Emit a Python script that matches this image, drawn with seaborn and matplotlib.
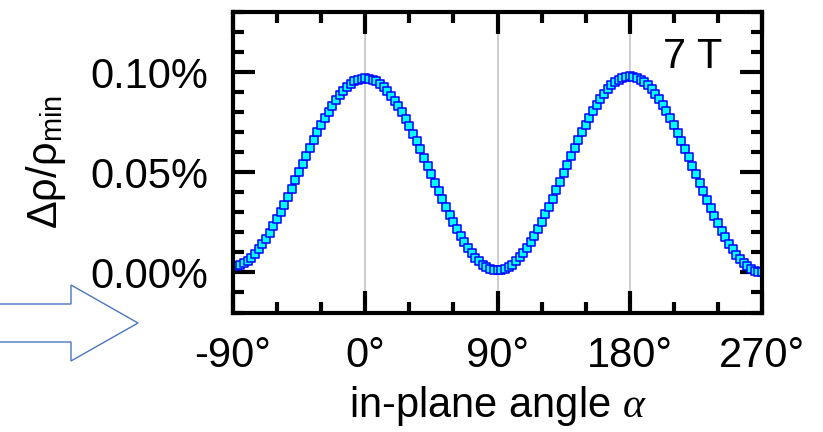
import matplotlib
matplotlib.use('Agg')
import matplotlib.pyplot as plt
import seaborn as sns
import pandas as pd
from matplotlib.patches import Polygon
from matplotlib.ticker import MultipleLocator

# ---- data ----
angles = [-90.0, -87.5, -85.0, -82.5, -80.0, -77.5, -75.0, -72.5, -70.0, -67.5,
          -65.0, -62.5, -60.0, -57.5, -55.0, -52.5, -50.0, -47.5, -45.0, -42.5,
          -40.0, -37.5, -35.0, -32.5, -30.0, -27.5, -25.0, -22.5, -20.0, -17.5,
          -15.0, -12.5, -10.0, -7.5, -5.0, -2.5, 0.0, 2.5, 5.0, 7.5,
          10.0, 12.5, 15.0, 17.5, 20.0, 22.5, 25.0, 27.5, 30.0, 32.5,
          35.0, 37.5, 40.0, 42.5, 45.0, 47.5, 50.0, 52.5, 55.0, 57.5,
          60.0, 62.5, 65.0, 67.5, 70.0, 72.5, 75.0, 77.5, 80.0, 82.5,
          85.0, 87.5, 90.0, 92.5, 95.0, 97.5, 100.0, 102.5, 105.0, 107.5,
          110.0, 112.5, 115.0, 117.5, 120.0, 122.5, 125.0, 127.5, 130.0, 132.5,
          135.0, 137.5, 140.0, 142.5, 145.0, 147.5, 150.0, 152.5, 155.0, 157.5,
          160.0, 162.5, 165.0, 167.5, 170.0, 172.5, 175.0, 177.5, 180.0, 182.5,
          185.0, 187.5, 190.0, 192.5, 195.0, 197.5, 200.0, 202.5, 205.0, 207.5,
          210.0, 212.5, 215.0, 217.5, 220.0, 222.5, 225.0, 227.5, 230.0, 232.5,
          235.0, 237.5, 240.0, 242.5, 245.0, 247.5, 250.0, 252.5, 255.0, 257.5,
          260.0, 262.5, 265.0, 267.5, 270.0]
# delta rho / rho_min in percent
delta_rho = [
    # -90 .. 0
    0.0030, 0.0032, 0.0037, 0.0046, 0.0058, 0.0074, 0.0093, 0.0115, 0.0140, 0.0168,
    0.0198, 0.0230, 0.0265, 0.0301, 0.0339, 0.0378, 0.0418, 0.0459, 0.0500, 0.0541,
    0.0582, 0.0622, 0.0661, 0.0699, 0.0735, 0.0770, 0.0802, 0.0832, 0.0860, 0.0885,
    0.0907, 0.0926, 0.0942, 0.0954, 0.0963, 0.0968, 0.0970,
    # 2.5 .. 90
    0.0968, 0.0963, 0.0954, 0.0941, 0.0925, 0.0906, 0.0883, 0.0858, 0.0829, 0.0799,
    0.0765, 0.0730, 0.0693, 0.0654, 0.0614, 0.0573, 0.0532, 0.0490, 0.0448, 0.0407,
    0.0366, 0.0326, 0.0287, 0.0250, 0.0215, 0.0181, 0.0151, 0.0122, 0.0097, 0.0074,
    0.0055, 0.0039, 0.0026, 0.0017, 0.0012, 0.0010,
    # 92.5 .. 180
    0.0012, 0.0017, 0.0027, 0.0039, 0.0055, 0.0075, 0.0098, 0.0123, 0.0152, 0.0183,
    0.0217, 0.0253, 0.0290, 0.0329, 0.0369, 0.0411, 0.0453, 0.0495, 0.0537, 0.0579,
    0.0621, 0.0661, 0.0700, 0.0738, 0.0773, 0.0807, 0.0838, 0.0867, 0.0892, 0.0915,
    0.0935, 0.0951, 0.0963, 0.0973, 0.0978, 0.0980,
    # 182.5 .. 270
    0.0978, 0.0973, 0.0963, 0.0950, 0.0934, 0.0914, 0.0891, 0.0865, 0.0836, 0.0805,
    0.0771, 0.0735, 0.0697, 0.0658, 0.0617, 0.0575, 0.0533, 0.0490, 0.0447, 0.0405,
    0.0363, 0.0322, 0.0283, 0.0245, 0.0209, 0.0175, 0.0144, 0.0115, 0.0089, 0.0066,
    0.0046, 0.0030, 0.0017, 0.0007, 0.0002, 0.0000]
xticks = [-90, 0, 90, 180, 270]
xtick_labels = ['-90°', '0°', '90°', '180°', '270°']
yticks = [0.0, 0.05, 0.10]
ytick_labels = ['0.00%', '0.05%', '0.10%']
field_label = '7 T'

# ---- style ----
sns.set_style('ticks')
plt.rcParams['font.family'] = ['Liberation Sans', 'DejaVu Sans']
plt.rcParams['mathtext.fontset'] = 'custom'
plt.rcParams['mathtext.rm'] = 'Liberation Sans'
plt.rcParams['mathtext.it'] = 'Liberation Serif:italic'
plt.rcParams['mathtext.bf'] = 'Liberation Sans:bold'
for k in ['text.color', 'axes.labelcolor', 'xtick.color', 'ytick.color']:
    plt.rcParams[k] = 'black'

W, H = 823, 432
fig = plt.figure(figsize=(W / 100, H / 100), dpi=100)
ax = fig.add_axes([233 / W, 1 - 312.5 / H, 529 / W, 300.5 / H])

df = pd.DataFrame({'angle': angles, 'drho': delta_rho})
sns.scatterplot(data=df, x='angle', y='drho', marker='s', s=26,
                color='#00ffff', edgecolor='#0000ff', linewidth=1.1,
                ax=ax, legend=False, zorder=2)

ax.set_xlim(-90, 270)
ax.set_ylim(-0.02, 0.13)
ax.set_xticks(xticks)
ax.set_xticklabels(xtick_labels)
ax.set_yticks(yticks)
ax.set_yticklabels(ytick_labels)
ax.xaxis.set_minor_locator(MultipleLocator(30))
ax.yaxis.set_minor_locator(MultipleLocator(0.01))

ax.grid(axis='x', which='major', color='#c4c4c4', linewidth=1.2)

for sp in ax.spines.values():
    sp.set_visible(True)
    sp.set_linewidth(3)
    sp.set_color('black')

ax.tick_params(which='both', direction='in', top=True, right=True,
               bottom=True, left=True, color='black', width=3)
ax.tick_params(which='major', length=16, labelsize=30)
ax.tick_params(which='minor', length=8)
ax.tick_params(axis='x', which='major', pad=17)
ax.tick_params(axis='y', which='major', pad=18)

ax.set_xlabel('in-plane angle $\\alpha$', fontsize=30, labelpad=6)
ax.set_ylabel('Δρ/ρ$_{\\mathrm{min}}$', fontsize=30, labelpad=16)

ax.text(0.926, 0.8137, field_label, transform=ax.transAxes,
        ha='right', va='baseline', fontsize=30)

# decorative outlined arrow at lower left
pts = [(-5, 304), (71, 304), (71, 285), (138, 323), (71, 361), (71, 342), (-5, 342)]
arrow = Polygon([(x / W, 1 - y / H) for x, y in pts], closed=True,
                transform=fig.transFigure, fill=False,
                edgecolor='#4a76c0', linewidth=1.0)
fig.patches.append(arrow)

fig.savefig('out.png', dpi=100)
